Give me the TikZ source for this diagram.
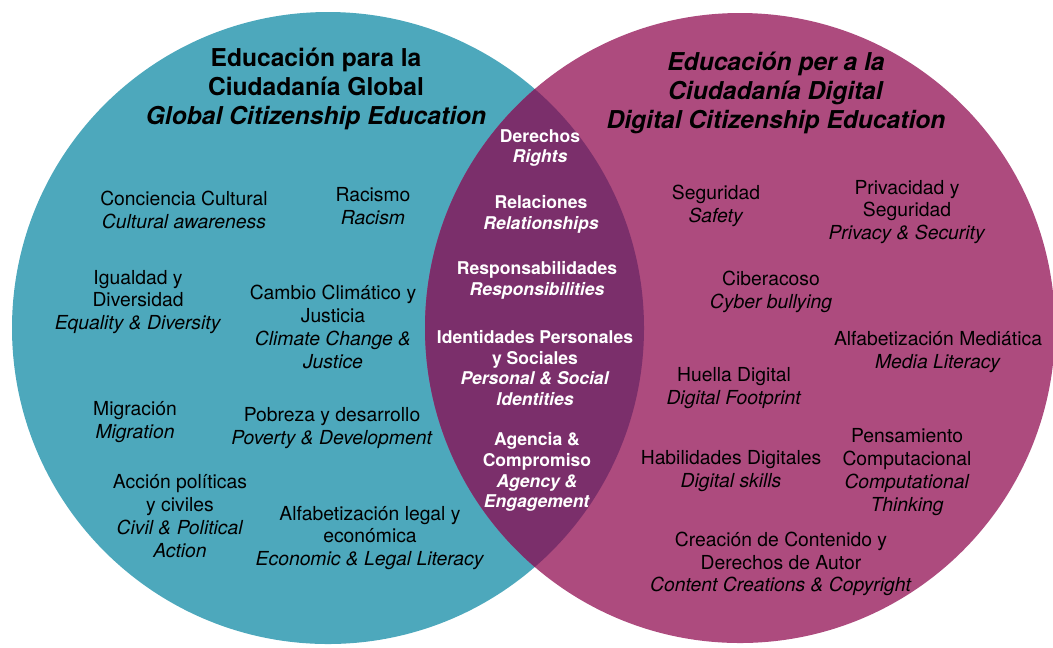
\documentclass[tikz,border=0pt]{standalone}
\usepackage{fontspec}
\setmainfont{TeX Gyre Heros}
\usetikzlibrary{positioning}
\definecolor{globalteal}{RGB}{77,168,188}
\definecolor{digitalpink}{RGB}{173,75,126}
\definecolor{sharedplum}{RGB}{123,47,107}
\tikzset{
  % Text styles
  heading/.style={align=center, inner sep=0pt, font=\fontsize{14}{16.5}\selectfont\bfseries},
  topic/.style={align=center, inner sep=0pt, font=\fontsize{11}{13}\selectfont},
  shared/.style={align=center, inner sep=0pt, text=white, font=\fontsize{10}{11.8}\selectfont\bfseries},
}

\begin{document}
\begin{tikzpicture}[x=0.02cm, y=-0.02cm]
    \useasboundingbox (0,0) rectangle (1053,647);
    \clip (0,0) rectangle (1053,647);

    % The two circles and their overlap
    \fill[globalteal] (328,328) circle (316);
    \fill[digitalpink] (740,328) circle (315);
    \begin{scope}
      \clip (328,328) circle (316);
      \fill[sharedplum] (740,328) circle (315);
    \end{scope}

    % Headings
    \node[heading] (gce) at (316,89) {Educación para la\\Ciudadanía Global\\\textit{Global Citizenship Education}};
    \node[heading] (dce) at (776,93) {\textit{Educación per a la}\\\textit{Ciudadanía Digital}\\\textit{Digital Citizenship Education}};

    % Global citizenship topics
    \node[topic] (culture) at (184,210) {Conciencia Cultural\\\textit{Cultural awareness}};
    \node[topic] (racism) at (373,206) {Racismo\\\textit{Racism}};
    \node[topic] (equality) at (138,302) {Igualdad y\\Diversidad\\\textit{Equality \& Diversity}};
    \node[topic] (climate) at (333,327) {Cambio Climático y\\Justicia\\\textit{Climate Change \&}\\\textit{Justice}};
    \node[topic] (migration) at (135,422) {Migración\\\textit{Migration}};
    \node[topic] (poverty) at (332,428) {Pobreza y desarrollo\\\textit{Poverty \& Development}};
    \node[topic] (civil) at (180,516) {Acción políticas\\y civiles\\\textit{Civil \& Political}\\\textit{Action}};
    \node[topic] (legal) at (370,538) {Alfabetización legal y\\económica\\\textit{Economic \& Legal Literacy}};

    % Digital citizenship topics
    \node[topic] (safety) at (716,206) {Seguridad\\\textit{Safety}};
    \node[topic] (privacy) at (907,212) {Privacidad y\\Seguridad\\\textit{Privacy \& Security}};
    \node[topic] (bullying) at (771,292) {Ciberacoso\\\textit{Cyber bullying}};
    \node[topic] (media) at (938,352) {Alfabetización Mediática\\\textit{Media Literacy}};
    \node[topic] (footprint) at (734,388) {Huella Digital\\\textit{Digital Footprint}};
    \node[topic] (computing) at (907,472) {Pensamiento\\Computacional\\\textit{Computational}\\\textit{Thinking}};
    \node[topic] (skills) at (731,471) {Habilidades Digitales\\\textit{Digital skills}};
    \node[topic] (content) at (781,564) {Creación de Contenido y\\Derechos de Autor\\\textit{Content Creations \& Copyright}};

    % Shared topics in the overlap
    \node[shared] (rights) at (540,148) {Derechos\\\textit{Rights}};
    \node[shared] (relations) at (541,214) {Relaciones\\\textit{Relationships}};
    \node[shared] (duties) at (537,280) {Responsabilidades\\\textit{Responsibilities}};
    \node[shared] (identity) at (535,368) {Identidades Personales\\y Sociales\\\textit{Personal \& Social}\\\textit{Identities}};
    \node[shared] (agency) at (537,472) {Agencia \&\\Compromiso\\\textit{Agency \&}\\\textit{Engagement}};
\end{tikzpicture}
\end{document}
